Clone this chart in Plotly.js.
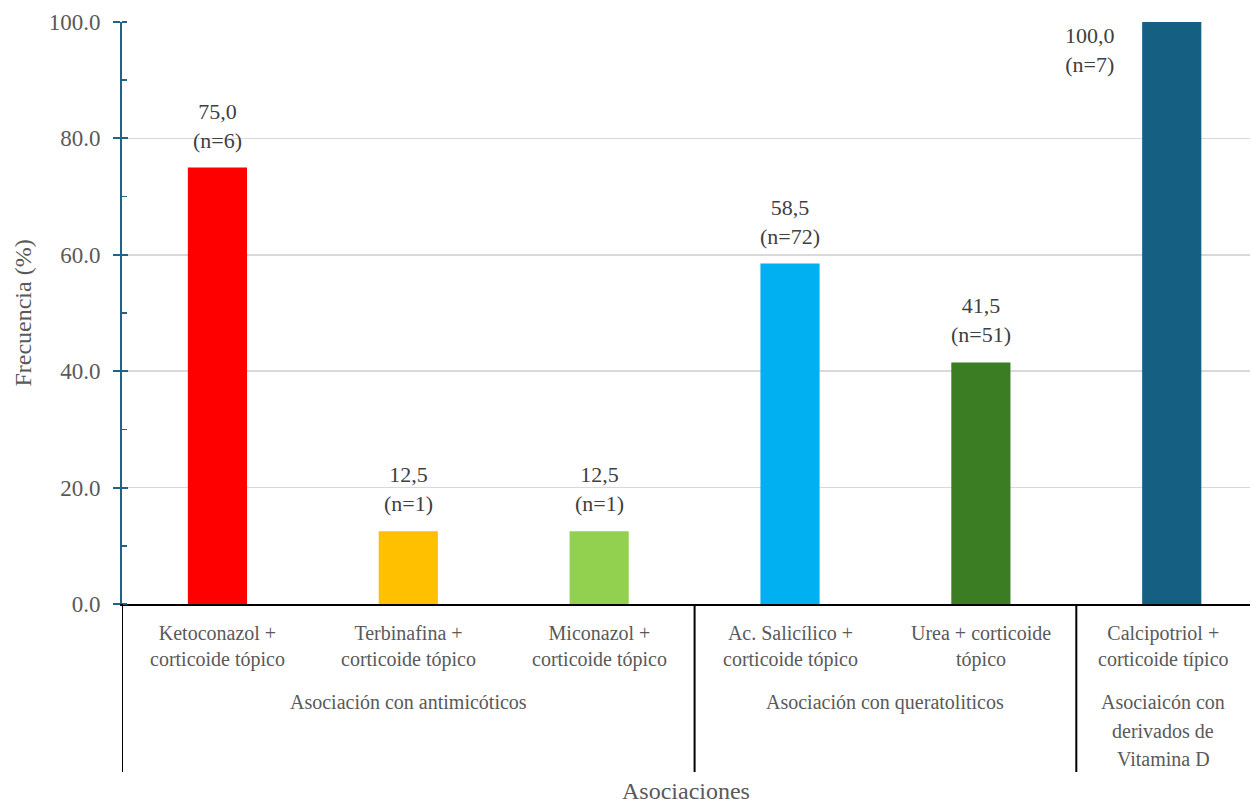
<!DOCTYPE html>
<html>
<head>
<meta charset="utf-8">
<script src="https://cdn.plot.ly/plotly-3.0.1.min.js"></script>
<style>html,body{margin:0;padding:0;background:#fff;}#chart{width:1252px;height:804px;}</style>
</head>
<body>
<div id="chart"></div>
<script>
// ---- data ----
const categories = ["Ketoconazol +<br>corticoide tópico", "Terbinafina +<br>corticoide tópico", "Miconazol +<br>corticoide tópico", "Ac. Salicílico +<br>corticoide tópico", "Urea + corticoide<br>tópico", "Calcipotriol +<br>corticoide típico"];
const values = [75.0, 12.5, 12.5, 58.5, 41.5, 100.0];
const counts = [6, 1, 1, 72, 51, 7];
const valueLabels = ["75,0", "12,5", "12,5", "58,5", "41,5", "100,0"];
const barColors = ["#ff0000", "#ffc000", "#92d050", "#00b0f0", "#3b7d23", "#156082"];
const groups = ["Asociación con antimicóticos", "Asociación con queratoliticos", "Asociaicón con<br>derivados de<br>Vitamina D"];
const groupSizes = [3, 2, 1];
const yTicks = [0, 20, 40, 60, 80, 100];
const yTickLabels = ["0.0", "20.0", "40.0", "60.0", "80.0", "100.0"];

const FONT = "'Times New Roman', Tinos, 'Liberation Serif', 'DejaVu Serif', serif";
const plotH = 804 - 22 - 200;
const XMAX = 5.41;

const trace = {
  type: "bar",
  x: categories,
  y: values,
  marker: {color: barColors},
  hoverinfo: "x+y"
};

const annotations = [];
// value labels
values.forEach((v, i) => {
  const last = i === values.length - 1;
  annotations.push({
    xref: "x", yref: "y", x: categories[i], y: v,
    text: valueLabels[i] + "<br>(n=" + counts[i] + ")",
    showarrow: false,
    yanchor: last ? "top" : "bottom",
    yshift: last ? 1 : 13,
    xshift: last ? -82 : 0,
    font: {family: FONT, size: 22, color: "#404040"}
  });
});
// category labels (centred in the visible part of each slot)
categories.forEach((c, i) => {
  const cx = ((i - 0.5) + Math.min(i + 0.5, XMAX)) / 2;
  annotations.push({
    xref: "x", yref: "paper", x: cx, y: 0, yanchor: "top", yshift: -16,
    text: c, showarrow: false,
    font: {family: FONT, size: 20, color: "#595959"}
  });
});
// group labels & separators
const shapes = [];
let start = 0;
shapes.push({type: "line", xref: "x", yref: "paper", x0: -0.5, x1: -0.5, y0: 0, y1: -168 / plotH, line: {color: "#000", width: 2}});
groups.forEach((g, gi) => {
  const end = start + groupSizes[gi] - 1;
  const gx = ((start - 0.5) + Math.min(end + 0.5, XMAX)) / 2;
  g.split("<br>").forEach((line, li) => {
    annotations.push({
      xref: "x", yref: "paper", x: gx, y: 0, yanchor: "top", yshift: -85 - li * 28.5,
      text: line, showarrow: false,
      font: {family: FONT, size: 20, color: "#595959"}
    });
  });
  if (gi < groups.length - 1) {
    shapes.push({type: "line", xref: "x", yref: "paper", x0: end + 0.5, x1: end + 0.5, y0: 0, y1: -168 / plotH, line: {color: "#000", width: 2}});
  }
  start = end + 1;
});
// x-axis title
annotations.push({
  xref: "paper", yref: "paper", x: 0.5, y: 0, yanchor: "top", yshift: -172,
  text: "Asociaciones", showarrow: false,
  font: {family: FONT, size: 24, color: "#595959"}
});

const layout = {
  width: 1252, height: 804,
  margin: {l: 122, r: 2, t: 22, b: 200},
  paper_bgcolor: "#fff", plot_bgcolor: "#fff",
  bargap: 0.69,
  showlegend: false,
  font: {family: FONT, color: "#595959"},
  xaxis: {
    type: "category",
    range: [-0.5, XMAX],
    showticklabels: false,
    ticks: "",
    showgrid: false,
    showline: true, linecolor: "#000", linewidth: 2,
    zeroline: false,
    fixedrange: true
  },
  yaxis: {
    range: [0, 100],
    tickvals: yTicks, ticktext: yTickLabels,
    ticks: "outside", ticklen: 7, tickwidth: 2, tickcolor: "#1f6386",
    ticklabelstandoff: 8,
    minor: {dtick: 10, ticks: "inside", ticklen: 5, tickwidth: 1.5, tickcolor: "#1f6386", showgrid: false},
    showline: true, linecolor: "#1f6386", linewidth: 2,
    showgrid: true, gridcolor: "#d9d9d9", gridwidth: 1.5,
    zeroline: false,
    tickfont: {family: FONT, size: 23, color: "#595959"},
    title: {text: "Frecuencia (%)", font: {family: FONT, size: 24, color: "#595959"}, standoff: 10},
    fixedrange: true
  },
  yaxis2: {
    overlaying: "y", side: "left", range: [0, 100],
    tickvals: yTicks, ticks: "inside", ticklen: 6, tickwidth: 2, tickcolor: "#1f6386",
    showticklabels: false, showgrid: false, showline: false, zeroline: false, fixedrange: true
  },
  annotations: annotations,
  shapes: shapes
};

const dummy = {type: "scatter", x: [categories[0]], y: [0], yaxis: "y2", mode: "markers", marker: {opacity: 0}, hoverinfo: "skip"};

Plotly.newPlot("chart", [trace, dummy], layout, {displayModeBar: false, staticPlot: true});
</script>
</body>
</html>
